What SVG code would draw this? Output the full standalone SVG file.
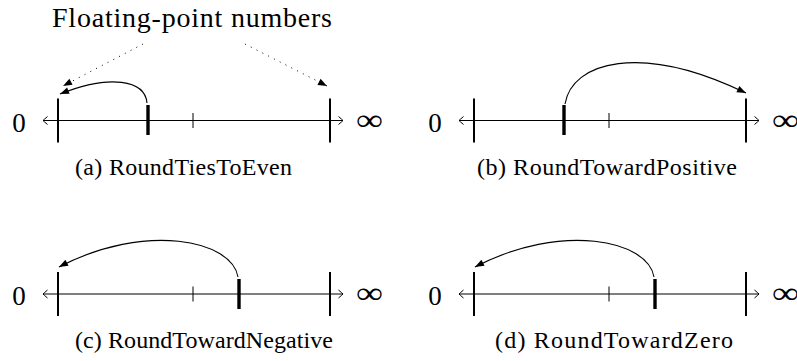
<svg xmlns="http://www.w3.org/2000/svg" width="797" height="361" viewBox="0 0 797 361">
<defs>
<marker id="head" viewBox="-10 -5 12 10" markerWidth="12" markerHeight="10" refX="0" refY="0" orient="auto" markerUnits="userSpaceOnUse"><path d="M0,0 L-9,-3.4 L-9,3.4 Z" fill="#000"/></marker>
<marker id="open" viewBox="-6 -5 8 10" markerWidth="8" markerHeight="10" refX="0" refY="0" orient="auto-start-reverse" markerUnits="userSpaceOnUse"><path d="M-4.5,-4 Q-1,-1 0,0 Q-1,1 -4.5,4" fill="none" stroke="#000" stroke-width="1"/></marker>
</defs>
<style>
.t{font-family:"Liberation Serif","Times New Roman",serif;fill:#000}
.cap{font-size:24px}
.zero{font-size:27px}
.inf{font-size:30px}
.axis{stroke:#000;stroke-width:1.1;fill:none;marker-start:url(#open);marker-end:url(#open)}
.tall{stroke:#000;stroke-width:2}
.thick{stroke:#000;stroke-width:3.4}
.small{stroke:#000;stroke-width:1}
.arc{fill:none;stroke:#000;stroke-width:1.1;marker-end:url(#head)}
.dot{fill:none;stroke:#000;stroke-width:1;stroke-dasharray:1 5.5;marker-end:url(#head)}
</style>
<rect width="797" height="361" fill="#fff"/>
<text class="t" x="192" y="27" font-size="28" text-anchor="middle" textLength="280" lengthAdjust="spacing">Floating-point numbers</text>

<g id="panel-a">
<text class="t zero" x="19" y="131.5" text-anchor="middle">0</text>
<line class="axis" x1="43" y1="120.5" x2="343" y2="120.5"/>
<line class="tall" x1="58" y1="98.5" x2="58" y2="142.5"/>
<line class="tall" x1="330" y1="98.5" x2="330" y2="142.5"/>
<line class="thick" x1="148" y1="105" x2="148" y2="135"/>
<line class="small" x1="193" y1="113" x2="193" y2="128"/>
<text class="t inf" x="356" y="129.5" textLength="27" lengthAdjust="spacingAndGlyphs">∞</text>
<text class="t cap" x="75" y="174.5" textLength="217" lengthAdjust="spacing">(a) RoundTiesToEven</text>
</g>

<g id="panel-b">
<text class="t zero" x="435" y="131.5" text-anchor="middle">0</text>
<line class="axis" x1="459" y1="120.5" x2="759" y2="120.5"/>
<line class="tall" x1="474" y1="98.5" x2="474" y2="142.5"/>
<line class="tall" x1="746" y1="98.5" x2="746" y2="142.5"/>
<line class="thick" x1="564" y1="105" x2="564" y2="135"/>
<line class="small" x1="609" y1="113" x2="609" y2="128"/>
<text class="t inf" x="772" y="129.5" textLength="27" lengthAdjust="spacingAndGlyphs">∞</text>
<text class="t cap" x="477" y="174.5" textLength="260" lengthAdjust="spacing">(b) RoundTowardPositive</text>
</g>

<g id="panel-c">
<text class="t zero" x="19" y="305" text-anchor="middle">0</text>
<line class="axis" x1="43" y1="294" x2="343" y2="294"/>
<line class="tall" x1="58" y1="272" x2="58" y2="316"/>
<line class="tall" x1="330" y1="272" x2="330" y2="316"/>
<line class="thick" x1="239" y1="279" x2="239" y2="309"/>
<line class="small" x1="193" y1="286.5" x2="193" y2="301.5"/>
<text class="t inf" x="356" y="303" textLength="27" lengthAdjust="spacingAndGlyphs">∞</text>
<text class="t cap" x="75" y="348" textLength="258" lengthAdjust="spacing">(c) RoundTowardNegative</text>
</g>

<g id="panel-d">
<text class="t zero" x="435" y="305" text-anchor="middle">0</text>
<line class="axis" x1="459" y1="294" x2="759" y2="294"/>
<line class="tall" x1="474" y1="272" x2="474" y2="316"/>
<line class="tall" x1="746" y1="272" x2="746" y2="316"/>
<line class="thick" x1="655" y1="279" x2="655" y2="309"/>
<line class="small" x1="609" y1="286.5" x2="609" y2="301.5"/>
<text class="t inf" x="772" y="303" textLength="27" lengthAdjust="spacingAndGlyphs">∞</text>
<text class="t cap" x="495" y="348" textLength="238" lengthAdjust="spacing">(d) RoundTowardZero</text>
</g>

<g id="connectors">
<path class="dot" d="M143,44 L63,86"/>
<path class="dot" d="M245,44 L327,86"/>
<path class="arc" d="M147,103 C145,80 110,74 60,94"/>
<path class="arc" d="M565,104 C572,62 640,42 746,93"/>
<path class="arc" d="M238,277 C232,240 145,222 59,267"/>
<path class="arc" d="M654,277 C648,240 561,222 475,267"/>
</g>
</svg>
